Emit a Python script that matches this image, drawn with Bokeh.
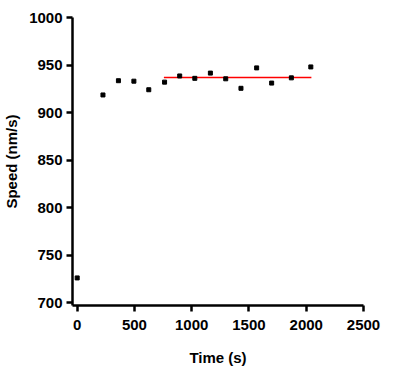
from bokeh.plotting import figure
from bokeh.models import Range1d, FixedTicker
from bokeh.embed import file_html
from bokeh.resources import INLINE

# Data
time_s = [0, 225, 360, 495, 625, 763, 895, 1027, 1163, 1297, 1430, 1567, 1698, 1870, 2040]
speed = [726, 918.5, 933.5, 933, 924, 932, 938.5, 936, 941.5, 935.5, 925.5, 947, 931, 936.5, 948]
fit_x = [757, 2045]
fit_mean = 937.0

x_ticks = [0, 500, 1000, 1500, 2000, 2500]
y_ticks = [700, 750, 800, 850, 900, 950, 1000]

FONT = "Liberation Sans"

p = figure(width=400, height=368, output_backend="svg", toolbar_location=None,
           x_range=Range1d(-41, 2500), y_range=Range1d(697, 1000),
           min_border_left=72, min_border_right=37, min_border_top=17, min_border_bottom=63)
p.outline_line_color = None
p.xgrid.visible = False
p.ygrid.visible = False
p.background_fill_color = "white"
p.border_fill_color = "white"

p.line(x=fit_x, y=[fit_mean, fit_mean], line_color="#ff0000", line_width=1.5)
p.scatter(x=time_s, y=speed, marker="square", size=4, color="black")

for ax in (p.xaxis[0], p.yaxis[0]):
    ax.axis_line_width = 2.5
    ax.axis_line_color = "black"
    ax.major_tick_line_width = 2.5
    ax.major_tick_line_color = "black"
    ax.major_tick_out = 6
    ax.major_tick_in = 0
    ax.minor_tick_line_color = None
    ax.major_label_text_font = FONT
    ax.major_label_text_font_style = "bold"
    ax.major_label_text_font_size = "15px"
    ax.major_label_text_color = "black"
    ax.axis_label_text_font = FONT
    ax.axis_label_text_font_style = "bold"
    ax.axis_label_text_font_size = "15px"
    ax.axis_label_text_color = "black"

p.xaxis[0].ticker = FixedTicker(ticks=x_ticks)
p.yaxis[0].ticker = FixedTicker(ticks=y_ticks)
p.xaxis[0].axis_label = "Time (s)"
p.yaxis[0].axis_label = "Speed (nm/s)"
p.xaxis[0].major_label_standoff = 8
p.yaxis[0].major_label_standoff = 4
p.xaxis[0].axis_label_standoff = 16
p.yaxis[0].axis_label_standoff = 6

open("out.html", "w").write(file_html(p, INLINE))
